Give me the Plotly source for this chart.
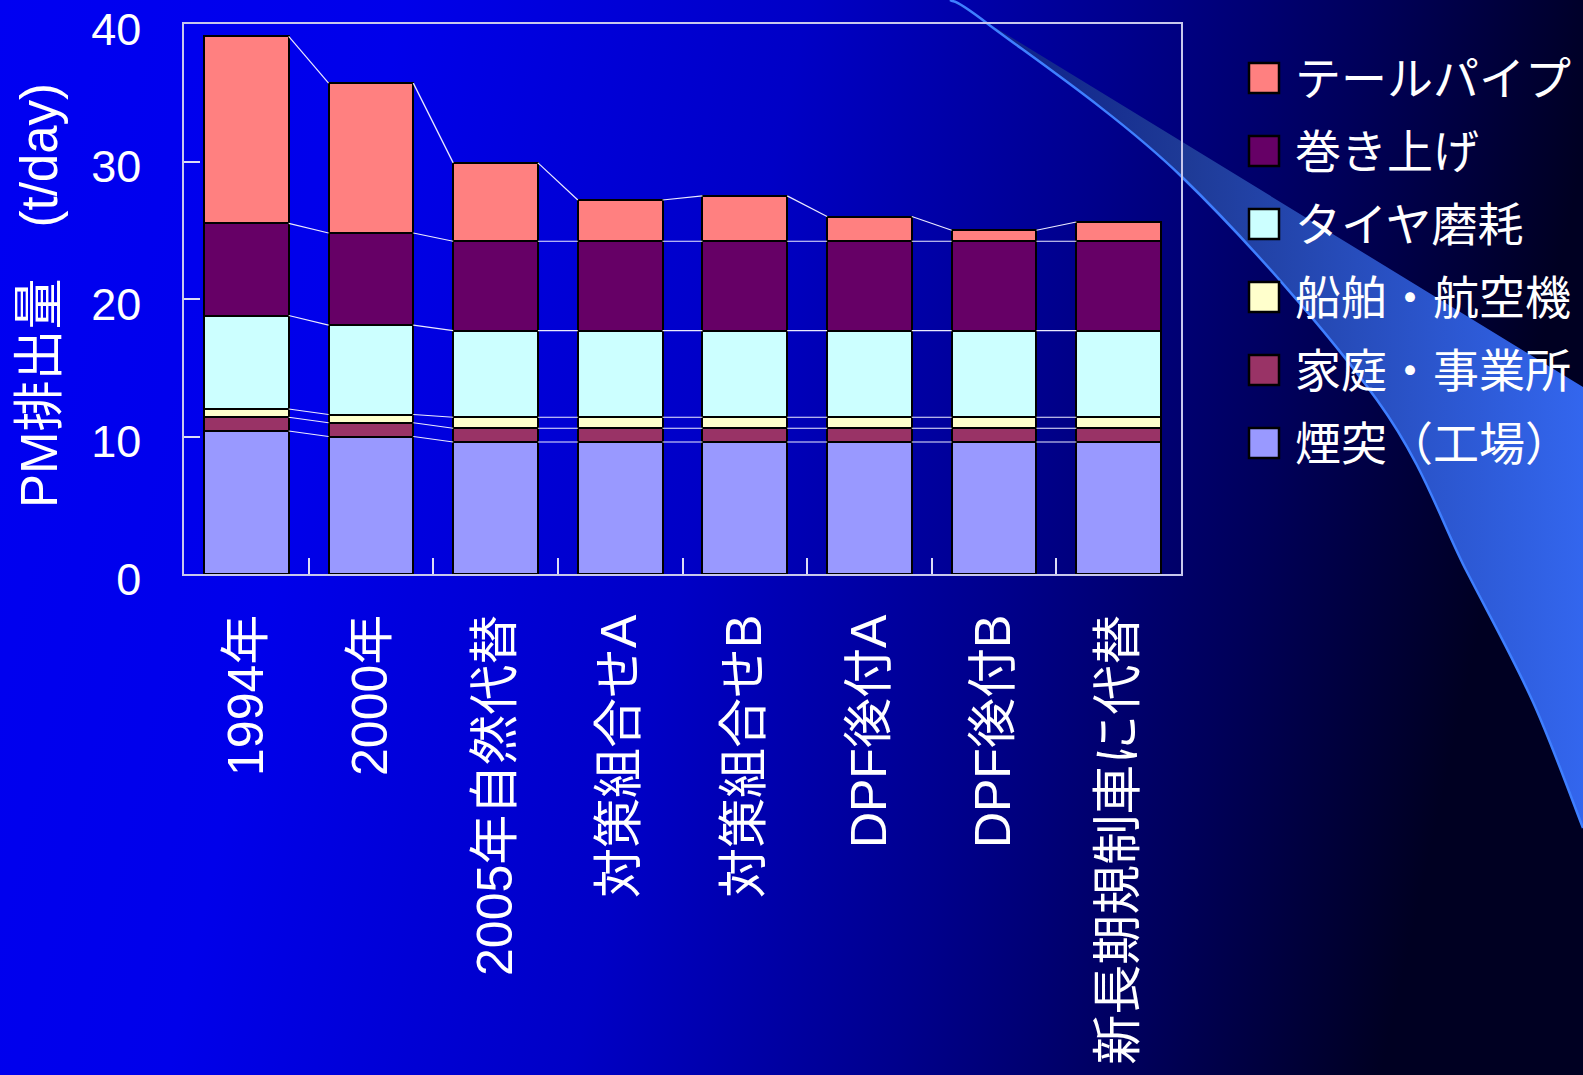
import base64
import numpy as np
import plotly.graph_objects as go

# ---------------- data ----------------
categories = ["1994年", "2000年", "2005年自然代替", "対策組合せA", "対策組合せB",
              "DPF後付A", "DPF後付B", "新長期規制車に代替"]

series_names = ["煙突（工場）", "家庭・事業所", "船舶・航空機", "タイヤ磨耗", "巻き上げ", "テールパイプ"]
smokestack = [10.4, 10.0, 9.6, 9.6, 9.6, 9.6, 9.6, 9.6]
household = [1.0, 1.0, 1.0, 1.0, 1.0, 1.0, 1.0, 1.0]
ship_air = [0.6, 0.6, 0.8, 0.8, 0.8, 0.8, 0.8, 0.8]
tire_wear = [6.8, 6.5, 6.3, 6.3, 6.3, 6.3, 6.3, 6.3]
road_dust = [6.7, 6.7, 6.5, 6.5, 6.5, 6.5, 6.5, 6.5]
tailpipe = [13.6, 10.9, 5.7, 3.0, 3.3, 1.8, 0.8, 1.4]
series_values = [smokestack, household, ship_air, tire_wear, road_dust, tailpipe]
series_colors = ["#9999FF", "#993366", "#FFFFCC", "#CCFFFF", "#660066", "#FF8080"]

y_tick_vals = [0, 10, 20, 30, 40]
y_title = "PM排出量　(t/day)"

# ---------------- layout geometry ----------------
W, H = 1583, 1075
ML, MR, MT, MB = 184, 402, 24, 501
PW, PH = W - ML - MR, H - MT - MB
BARGAP = 0.32
BW = 1 - BARGAP
FONT = "Liberation Sans, Arial, Noto Sans CJK JP, sans-serif"


def px_x(p):
    return (p - ML) / PW


def px_y(p):
    return 1 - (p - MT) / PH


xs = np.arange(len(categories))

fig = go.Figure()
for name, vals, col in zip(series_names, series_values, series_colors):
    fig.add_trace(go.Bar(
        x=xs, y=vals, name=name, marker=dict(color=col, line=dict(color="black", width=2)),
        showlegend=False,
    ))

# Excel-like series lines connecting segment tops between adjacent bars
cum = np.cumsum(np.array(series_values), axis=0)
for level in cum:
    lx, ly = [], []
    for i in range(len(categories) - 1):
        lx += [xs[i] + BW / 2, xs[i + 1] - BW / 2, None]
        ly += [level[i], level[i + 1], None]
    fig.add_trace(go.Scatter(x=lx, y=ly, mode="lines", xaxis="x2",
                             line=dict(color="#ecebff", width=1.2),
                             showlegend=False, hoverinfo="skip"))


# ---------------- background (gradient + swoosh) ----------------
def catmull_path(pts):
    d = f"M{pts[0][0]},{pts[0][1]}"
    n = len(pts)
    for i in range(n - 1):
        p0 = pts[i - 1] if i > 0 else pts[i]
        p1, p2 = pts[i], pts[i + 1]
        p3 = pts[i + 2] if i + 2 < n else pts[i + 1]
        c1 = (p1[0] + (p2[0] - p0[0]) / 6, p1[1] + (p2[1] - p0[1]) / 6)
        c2 = (p2[0] - (p3[0] - p1[0]) / 6, p2[1] - (p3[1] - p1[1]) / 6)
        d += f" C{c1[0]:.1f},{c1[1]:.1f} {c2[0]:.1f},{c2[1]:.1f} {p2[0]},{p2[1]}"
    return d


edge = [(950, 0), (988, 24), (1182, 177), (1377, 400), (1467, 572), (1533, 702), (1583, 828)]
edge_rev = edge[::-1]
edge_d = catmull_path(edge_rev)  # from right edge back to apex
band_d = f"M950,0 L1583,387 L{edge_rev[0][0]},{edge_rev[0][1]}" + edge_d[edge_d.index(" C"):] + " Z"

svg = f'''<svg xmlns="http://www.w3.org/2000/svg" width="{W}" height="{H}" viewBox="0 0 {W} {H}" preserveAspectRatio="none">
<defs>
<linearGradient id="bg" x1="0" y1="0" x2="1" y2="0.15">
<stop offset="0" stop-color="#0000f2"/>
<stop offset="0.25" stop-color="#0000ea"/>
<stop offset="0.5" stop-color="#0000c6"/>
<stop offset="0.7" stop-color="#00008c"/>
<stop offset="0.85" stop-color="#00005a"/>
<stop offset="1" stop-color="#000022"/>
</linearGradient>
<linearGradient id="sw" gradientUnits="userSpaceOnUse" x1="950" y1="0" x2="1583" y2="0">
<stop offset="0" stop-color="#0a1a86"/>
<stop offset="0.37" stop-color="#1e3a96"/>
<stop offset="1" stop-color="#3366ee"/>
</linearGradient>
</defs>
<rect width="{W}" height="{H}" fill="url(#bg)"/>
<path d="{band_d}" fill="url(#sw)"/>
<path d="{edge_d}" fill="none" stroke="#3f7fff" stroke-width="2.5"/>
</svg>'''
src = "data:image/svg+xml;base64," + base64.b64encode(svg.encode("utf-8")).decode("ascii")

fig.add_layout_image(dict(
    source=src, xref="paper", yref="paper",
    x=-ML / PW, y=1 + MT / PH, sizex=W / PW, sizey=H / PH,
    xanchor="left", yanchor="top", sizing="stretch", layer="below",
))

# ---------------- manual legend ----------------
annotations = []
shapes = []
legend_order = list(range(len(series_names)))[::-1]
for row, idx in enumerate(legend_order):
    cy = 78 + 73 * row
    shapes.append(dict(type="rect", xref="paper", yref="paper",
                       x0=px_x(1249), x1=px_x(1279), y0=px_y(cy - 15), y1=px_y(cy + 15),
                       fillcolor=series_colors[idx], line=dict(color="black", width=2.5)))
    annotations.append(dict(text=series_names[idx], xref="paper", yref="paper",
                            x=px_x(1293), y=px_y(cy + 1), xanchor="left", yanchor="middle",
                            showarrow=False, font=dict(size=46, color="white", family=FONT)))

annotations.append(dict(text=y_title, xref="paper", yref="paper", x=px_x(39), y=px_y(296),
                        xanchor="center", yanchor="middle", textangle=-90, showarrow=False,
                        font=dict(size=51, color="white", family=FONT)))

fig.update_layout(
    width=W, height=H, autosize=False,
    margin=dict(l=ML, r=MR, t=MT, b=MB, pad=0, autoexpand=False),
    paper_bgcolor="#0000c0", plot_bgcolor="#333399",
    barmode="stack", bargap=BARGAP,
    showlegend=False,
    font=dict(family=FONT, color="white"),
    xaxis=dict(range=[-0.5, len(categories) - 0.5], tickmode="array", tickvals=xs,
               ticktext=categories, tickangle=-90, ticks="", showgrid=False, zeroline=False,
               showline=True, linecolor="#c8c8ec", linewidth=1.5, mirror=True, automargin=False,
               tickfont=dict(size=50, color="white", family=FONT), ticklabelstandoff=19),
    xaxis2=dict(overlaying="x", matches="x", side="bottom", tickmode="array",
                tickvals=xs[:-1] + 0.5, ticks="inside", ticklen=16, tickwidth=1.5,
                tickcolor="#dcdcf6", showticklabels=False, showgrid=False, zeroline=False,
                showline=False, automargin=False),
    yaxis=dict(range=[0, 40], tickmode="array", tickvals=y_tick_vals, ticks="inside",
               ticklen=16, tickwidth=1.5, tickcolor="#dcdcf6", showgrid=False, zeroline=False,
               showline=True, linecolor="#c8c8ec", linewidth=1.5, mirror=True, automargin=False,
               tickfont=dict(size=45, color="white", family=FONT), ticklabelstandoff=32,
               ticklabeloverflow="allow", ticklabelshift=5),
    annotations=annotations,
    shapes=shapes,
)

fig.write_html("out.html")
